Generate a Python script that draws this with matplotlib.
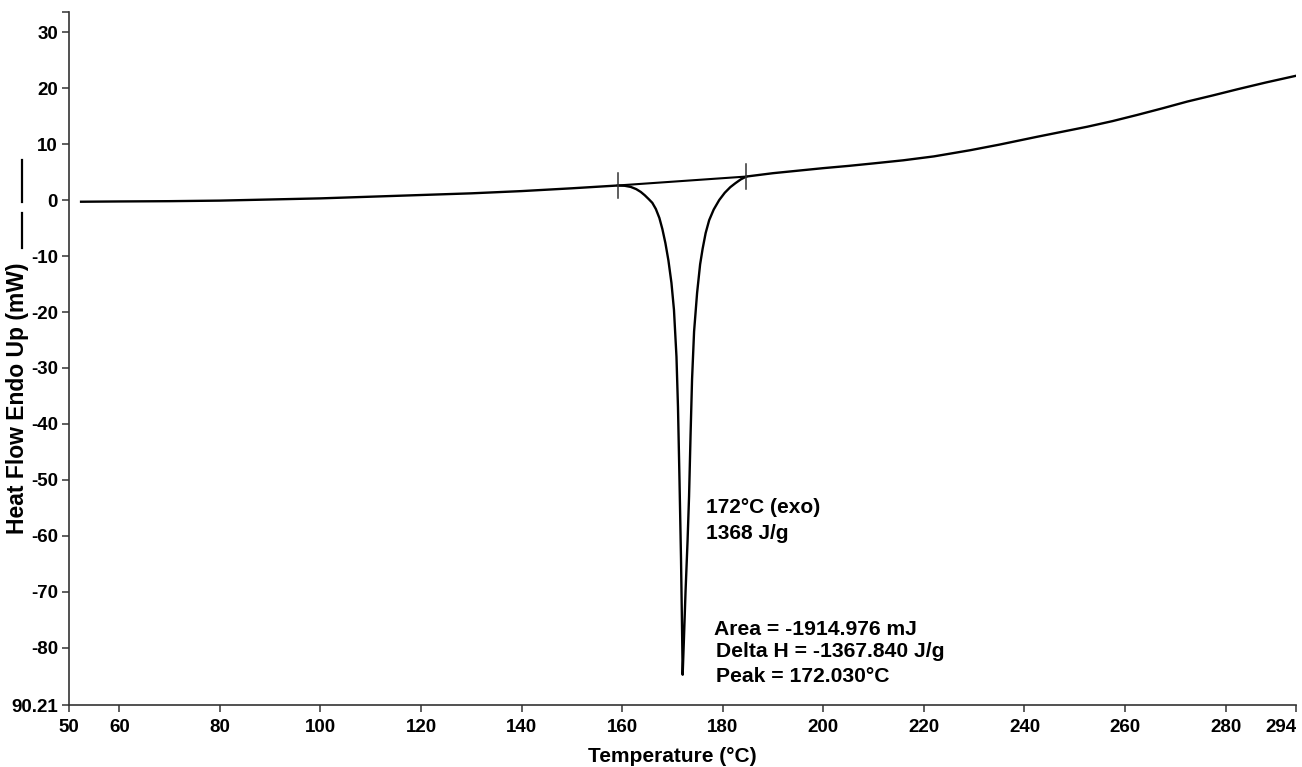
import matplotlib
matplotlib.use("Agg")
import matplotlib.pyplot as plt
from matplotlib.lines import Line2D

# ---- data ----
temp = [52.4, 60, 70, 80, 90, 100, 110, 120, 130, 140, 150, 159.1,
        160.5, 161.7, 162.8, 163.7, 164.5, 165.3, 166.0, 166.7, 167.4, 168.0, 168.6, 169.2,
        169.8, 170.3, 170.8, 171.1, 171.4, 171.7, 171.9, 172.03,
        172.3, 172.6, 173.0, 173.3, 173.6, 173.9, 174.3, 174.9, 175.5, 176.0, 176.6, 177.3,
        178.2, 179.3, 180.4, 181.5, 182.5, 183.6, 184.7,
        190, 195, 200, 205, 210, 215.9, 222, 229.2, 235, 242.5, 247.5, 252.5, 257.5,
        262.4, 267.5, 272.4, 277.5, 282.4, 288, 294.0]
heat = [-0.3, -0.25, -0.2, -0.1, 0.1, 0.3, 0.6, 0.9, 1.2, 1.6, 2.1, 2.6,
        2.55, 2.35, 1.95, 1.45, 0.85, 0.15, -0.5, -1.6, -3.2, -5.2, -7.7, -10.8,
        -14.8, -19.6, -28.0, -37.0, -50.0, -64.0, -76.0, -84.8,
        -78.0, -70.0, -61.0, -53.0, -42.0, -32.0, -23.5, -16.6, -11.5, -8.7, -5.9, -3.6,
        -1.7, 0.0, 1.3, 2.3, 3.0, 3.7, 4.2,
        4.8, 5.25, 5.7, 6.1, 6.55, 7.1, 7.8, 8.9, 9.9, 11.3, 12.2, 13.1, 14.1,
        15.2, 16.4, 17.6, 18.7, 19.8, 21.0, 22.2]

base_x = [159.1, 184.7]
base_y = [2.6, 4.2]

xticks = [50, 60, 80, 100, 120, 140, 160, 180, 200, 220, 240, 260, 280, 294]
yticks = [-90.21, -80, -70, -60, -50, -40, -30, -20, -10, 0, 10, 20, 30]
ytick_labels = ["90.21", "-80", "-70", "-60", "-50", "-40", "-30", "-20", "-10", "0", "10", "20", "30"]

peak_label = ["172\u00b0C (exo)", "1368 J/g"]
results = ["Area = -1914.976 mJ", "Delta H = -1367.840 J/g", "Peak = 172.030\u00b0C"]

# ---- figure ----
plt.rcParams['font.family'] = ['Liberation Sans', 'DejaVu Sans']
plt.rcParams['font.weight'] = 'bold'

fig = plt.figure(figsize=(13.02, 7.67), dpi=100)
ax = fig.add_axes([0.053, 0.0808, 0.9424, 0.9036])

ax.plot(temp, heat, color='black', lw=1.7, solid_joinstyle='round')
ax.plot(base_x, base_y, color='black', lw=1.5)
for bx, by in zip(base_x, base_y):
    ax.plot([bx, bx], [by - 2.3, by + 2.3], color='#333333', lw=1.1)

ax.set_xlim(50, 294)
ax.set_ylim(-90.21, 33.6)
ax.set_xticks(xticks)
ax.set_xticklabels([str(t) for t in xticks], fontsize=13.5, fontweight='bold')
ax.get_xticklabels()[-1].set_horizontalalignment('right')
ax.set_yticks(yticks + [33.6])
ax.set_yticklabels(ytick_labels + [""], fontsize=13.5, fontweight='bold')
ax.tick_params(direction='out', length=5, width=1.1, color='#333333')
ax.tick_params(axis='x', pad=5)
ax.tick_params(axis='y', pad=3)

for s in ['top', 'right']:
    ax.spines[s].set_visible(False)
for s in ['left', 'bottom']:
    ax.spines[s].set_linewidth(1.2)
    ax.spines[s].set_color('#333333')

ax.set_xlabel("Temperature (\u00b0C)", fontsize=15, fontweight='bold')
ax.xaxis.set_label_coords(0.492, -0.074)
ax.xaxis.label.set_verticalalignment('center')

# y label with the trailing dash marks
fig.text(18 / 1302, 1 - 398 / 767, "Heat Flow Endo Up (mW)", rotation=90,
         ha='center', va='center', fontsize=16.5, fontweight='bold')
for y0, y1 in [(213, 248), (160, 202)]:
    fig.add_artist(Line2D([22 / 1302, 22 / 1302], [1 - y0 / 767, 1 - y1 / 767],
                          color='black', lw=1.6, transform=fig.transFigure))

ax.text(176.6, -55.0, peak_label[0], fontsize=15, fontweight='bold', va='center', ha='left')
ax.text(176.6, -59.6, peak_label[1], fontsize=15, fontweight='bold', va='center', ha='left')

ax.text(178.3, -76.8, results[0], fontsize=15.2, fontweight='bold', va='center', ha='left')
ax.text(178.7, -80.7, results[1], fontsize=15.2, fontweight='bold', va='center', ha='left')
ax.text(178.7, -85.2, results[2], fontsize=15.2, fontweight='bold', va='center', ha='left')

fig.savefig("out.png", dpi=100)
